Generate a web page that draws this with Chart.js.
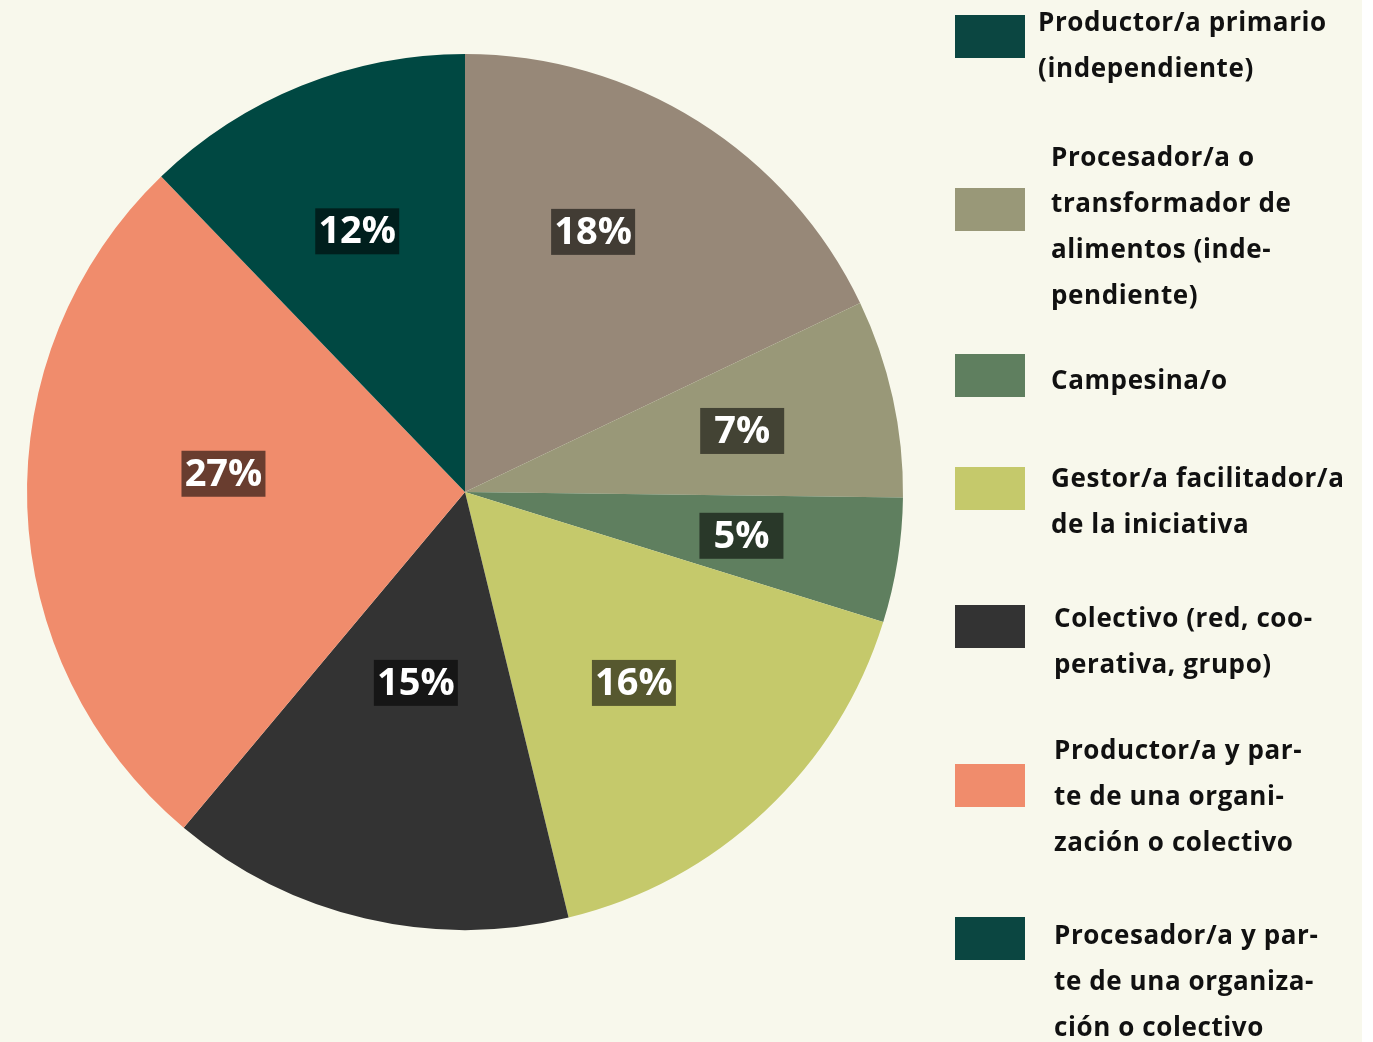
<!DOCTYPE html>
<html>
<head>
<meta charset="utf-8">
<script src="https://cdn.jsdelivr.net/npm/chart.js@4.4.1/dist/chart.umd.min.js"></script>
<style>
  html, body { margin: 0; padding: 0; background: #ffffff; }
  #wrap { width: 1362px; height: 1042px; background: #f8f8ec; }
</style>
</head>
<body>
<div id="wrap"><canvas id="pie" width="1362" height="1042"></canvas></div>
<script>
// slices, clockwise from 12 o'clock (shares)
const values = [17.9, 7.3, 4.6, 16.4, 14.9, 26.7, 12.2];
const sliceColors = ['#978878', '#999878', '#5f7f5f', '#c5c96b', '#333333', '#f08c6c', '#004842'];

// legend entries (as printed, with the original hyphenation)
const legendLines = [
    ['Productor/a primario', '(independiente)'],
    ['Procesador/a o', 'transformador de', 'alimentos (inde-', 'pendiente)'],
    ['Campesina/o'],
    ['Gestor/a facilitador/a', 'de la iniciativa'],
    ['Colectivo (red, coo-', 'perativa, grupo)'],
    ['Productor/a y par-', 'te de una organi-', 'zación o colectivo'],
    ['Procesador/a y par-', 'te de una organiza-', 'ción o colectivo']
];
const legendColors = ['#0b4641', '#999878', '#5f7f5f', '#c5c96b', '#333333', '#f08c6c', '#0b4641'];

// where each percent tag sits: fraction of radius, and nudge in degrees
const tagDist = [0.662, 0.648, 0.639, 0.582, 0.45, 0.553, 0.644];
const tagTurn = [-6, 0, 0, 1.7, 1.3, 6.3, -0.5];

const pctTags = {
    id: 'pctTags',
    afterDatasetsDraw(chart) {
        const c = chart.ctx;
        const arcs = chart.getDatasetMeta(0).data;
        c.save();
        c.font = 'bold 38px "Open Sans"';
        c.textAlign = 'center';
        c.textBaseline = 'middle';
        arcs.forEach((arc, i) => {
            const mid = (arc.startAngle + arc.endAngle) / 2 + tagTurn[i] * Math.PI / 180;
            const r = arc.outerRadius * tagDist[i];
            const x = arc.x + Math.cos(mid) * r;
            const y = arc.y + Math.sin(mid) * r;
            c.fillStyle = 'rgba(0,0,0,0.56)';
            c.fillRect(x - 42, y - 23, 84, 46);
            c.fillStyle = '#ffffff';
            c.fillText(Math.round(values[i]) + '%', x, y + 1);
        });
        c.restore();
    }
};

// legend rows: swatch top, first text line centre, text left
const legendRows = [
    { sy: 15, ty: 24, tx: 1038 },
    { sy: 188, ty: 159, tx: 1051 },
    { sy: 354, ty: 382, tx: 1051 },
    { sy: 467, ty: 480, tx: 1051 },
    { sy: 605, ty: 620, tx: 1054 },
    { sy: 764, ty: 752, tx: 1054 },
    { sy: 917, ty: 937, tx: 1054 }
];

const sideLegend = {
    id: 'sideLegend',
    afterDraw(chart) {
        const c = chart.ctx;
        c.save();
        c.font = 'bold 26px "Open Sans"';
        c.letterSpacing = '0.6px';
        c.textBaseline = 'middle';
        c.textAlign = 'left';
        legendLines.forEach((lines, i) => {
            const row = legendRows[i];
            c.fillStyle = legendColors[i];
            c.fillRect(955, row.sy, 70, 43);
            c.fillStyle = '#111111';
            lines.forEach((t, k) => c.fillText(t, row.tx, row.ty + k * 46));
        });
        c.restore();
    }
};

new Chart(document.getElementById('pie'), {
    type: 'pie',
    data: {
        labels: legendLines.map(l => l.join(' ')),
        datasets: [{
            data: values,
            backgroundColor: sliceColors,
            borderWidth: 0
        }]
    },
    options: {
        responsive: false,
        animation: false,
        layout: { padding: { left: 27, top: 54, right: 459, bottom: 112 } },
        plugins: {
            legend: { display: false },
            tooltip: { enabled: false }
        }
    },
    plugins: [pctTags, sideLegend]
});
</script>
</body>
</html>
